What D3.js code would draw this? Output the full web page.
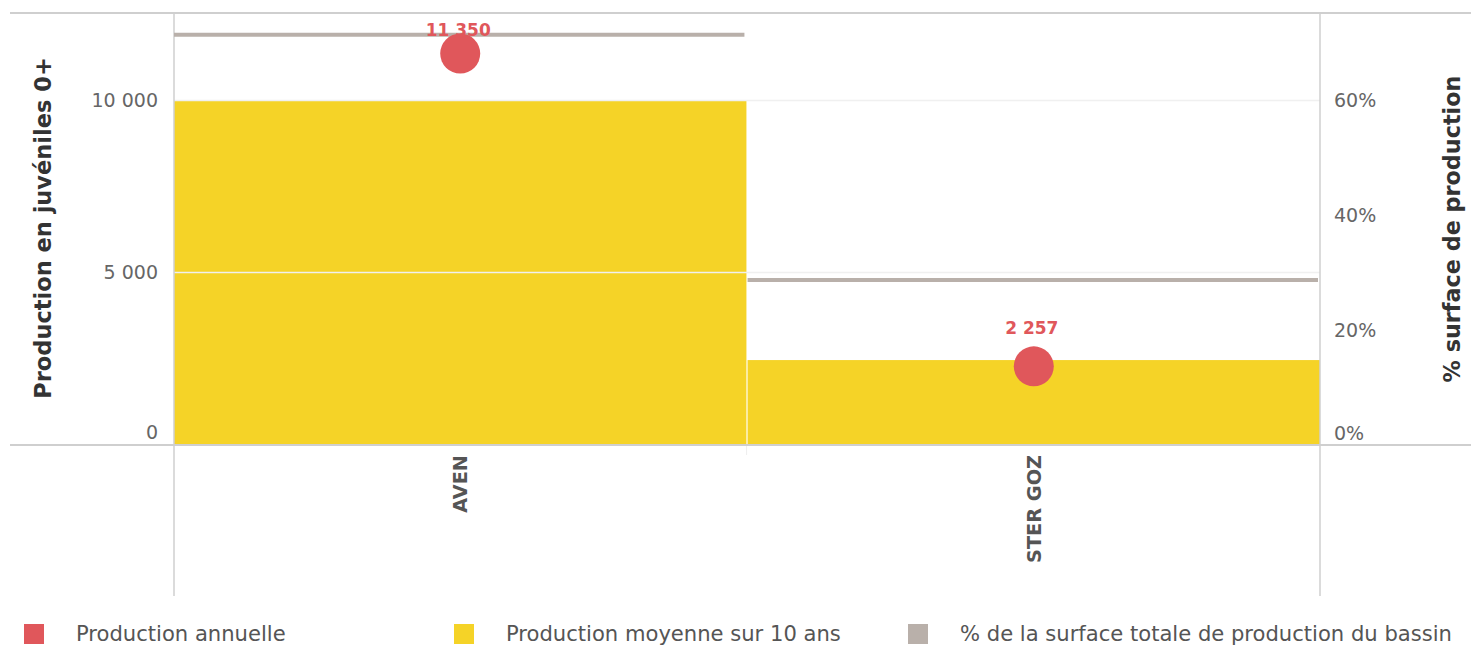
<!DOCTYPE html>
<html>
<head>
<meta charset="utf-8">
<script src="https://cdn.jsdelivr.net/npm/d3@7"></script>
<style>
  html, body { margin: 0; padding: 0; background: #fff; }
  svg { display: block; font-family: "DejaVu Sans", sans-serif; }
</style>
</head>
<body>
<svg id="chart" width="1471" height="646"></svg>
<script>
const categories = ['AVEN', 'STER GOZ'];
const annualProduction = [11350, 2257];
const averageProduction = [9990, 2440];
const surfaceShare = [71.3, 28.7];
const leftTicks = [0, 5000, 10000];
const rightTicks = [0, 20, 40, 60];
const legendItems = [
  { label: 'Production annuelle', color: '#e0575b' },
  { label: 'Production moyenne sur 10 ans', color: '#f5d327' },
  { label: '% de la surface totale de production du bassin', color: '#b9b0aa' },
];

const width = 1471;
const plot = { left: 174, right: 1320, top: 13, bottom: 444 };

const svg = d3.select('#chart');
const fmt = (value) => d3.format(',')(value).replace(/,/g, ' ');

const x = d3.scaleBand().domain(categories).range([plot.left, plot.right]).paddingInner(0.002);
const yLeft = d3.scaleLinear().domain([0, 12530]).range([plot.bottom, plot.top]);
const yRight = d3.scaleLinear().domain([0, 75.1]).range([plot.bottom + 1, plot.top]);

// bars
svg.append('g')
  .selectAll('rect')
  .data(categories)
  .join('rect')
  .attr('x', (d) => x(d))
  .attr('width', x.bandwidth())
  .attr('y', (d, i) => yLeft(averageProduction[i]))
  .attr('height', (d, i) => plot.bottom - yLeft(averageProduction[i]))
  .attr('fill', '#f5d327');

// gridlines
svg.append('g')
  .selectAll('line')
  .data(leftTicks.filter((t) => t > 0))
  .join('line')
  .attr('x1', plot.left)
  .attr('x2', plot.right)
  .attr('y1', (t) => Math.round(yLeft(t)) + 0.5)
  .attr('y2', (t) => Math.round(yLeft(t)) + 0.5)
  .attr('stroke', '#f0f0f0')
  .attr('stroke-width', 1.5);

// frame lines
const frame = svg.append('g').attr('stroke', '#cfcfcf').attr('stroke-width', 2);
frame.append('line').attr('x1', 10).attr('x2', width).attr('y1', plot.top).attr('y2', plot.top);
frame.append('line').attr('x1', 10).attr('x2', width).attr('y1', plot.bottom + 1).attr('y2', plot.bottom + 1);
frame.append('line').attr('x1', plot.left).attr('x2', plot.left).attr('y1', plot.top).attr('y2', 596).attr('stroke-width', 1.5);
frame.append('line').attr('x1', plot.right).attr('x2', plot.right).attr('y1', plot.top).attr('y2', 596).attr('stroke-width', 1.5);
frame.append('line')
  .attr('x1', x(categories[1]) - 1).attr('x2', x(categories[1]) - 1)
  .attr('y1', plot.bottom + 2).attr('y2', 455)
  .attr('stroke', '#eeeeee').attr('stroke-width', 1);

// surface share lines
svg.append('g')
  .selectAll('line')
  .data(categories)
  .join('line')
  .attr('x1', (d) => x(d))
  .attr('x2', (d) => x(d) + x.bandwidth() - 2)
  .attr('y1', (d, i) => yRight(surfaceShare[i]))
  .attr('y2', (d, i) => yRight(surfaceShare[i]))
  .attr('stroke', '#b9b0aa')
  .attr('stroke-width', 4);

// annual production points
const points = svg.append('g');
points.selectAll('circle')
  .data(categories)
  .join('circle')
  .attr('cx', (d) => x(d) + x.bandwidth() / 2)
  .attr('cy', (d, i) => yLeft(annualProduction[i]))
  .attr('r', 20)
  .attr('fill', '#e0575b');

// labels sit above the dot, but are kept inside the plot area
points.selectAll('text')
  .data(categories)
  .join('text')
  .attr('x', (d) => x(d) + x.bandwidth() / 2 - 2)
  .attr('y', (d, i) => Math.max(plot.top + 17, yLeft(annualProduction[i]) - 38))
  .attr('dy', '0.35em')
  .attr('text-anchor', 'middle')
  .attr('font-size', 17)
  .attr('font-weight', 'bold')
  .attr('fill', '#e0575b')
  .text((d, i) => fmt(annualProduction[i]));

// left axis labels
svg.append('g')
  .selectAll('text')
  .data(leftTicks)
  .join('text')
  .attr('x', 158)
  .attr('y', (t) => (t === 0 ? yLeft(t) - 12 : yLeft(t)))
  .attr('dy', '0.35em')
  .attr('text-anchor', 'end')
  .attr('font-size', 19)
  .attr('fill', '#666')
  .text((t) => fmt(t));

// right axis labels
svg.append('g')
  .selectAll('text')
  .data(rightTicks)
  .join('text')
  .attr('x', 1334)
  .attr('y', (t) => (t === 0 ? yRight(t) - 12 : yRight(t)))
  .attr('dy', '0.35em')
  .attr('text-anchor', 'start')
  .attr('font-size', 19)
  .attr('fill', '#666')
  .text((t) => `${t}%`);

// axis titles
svg.append('text')
  .attr('transform', `translate(43,228) rotate(-90)`)
  .attr('dy', '0.35em')
  .attr('text-anchor', 'middle')
  .attr('font-size', 22.5)
  .attr('font-weight', 'bold')
  .attr('fill', '#333')
  .text('Production en juvéniles 0+');

svg.append('text')
  .attr('transform', `translate(1452,229) rotate(-90)`)
  .attr('dy', '0.35em')
  .attr('text-anchor', 'middle')
  .attr('font-size', 22.3)
  .attr('font-weight', 'bold')
  .attr('fill', '#333')
  .text('% surface de production');

// category labels
svg.append('g')
  .selectAll('text')
  .data(categories)
  .join('text')
  .attr('transform', (d) => `translate(${x(d) + x.bandwidth() / 2},455) rotate(-90)`)
  .attr('dy', '0.35em')
  .attr('text-anchor', 'end')
  .attr('font-size', 19.3)
  .attr('font-weight', 'bold')
  .attr('fill', '#555')
  .text((d) => d);

// legend
const legendX = [24, 454, 908];
const legend = svg.append('g')
  .selectAll('g')
  .data(legendItems)
  .join('g')
  .attr('transform', (d, i) => `translate(${legendX[i]},624)`);

legend.append('rect').attr('width', 20).attr('height', 20).attr('fill', (d) => d.color);
legend.append('text')
  .attr('x', 52)
  .attr('y', 10)
  .attr('dy', '0.35em')
  .attr('font-size', 21.1)
  .attr('fill', '#555')
  .text((d) => d.label);
</script>
</body>
</html>
